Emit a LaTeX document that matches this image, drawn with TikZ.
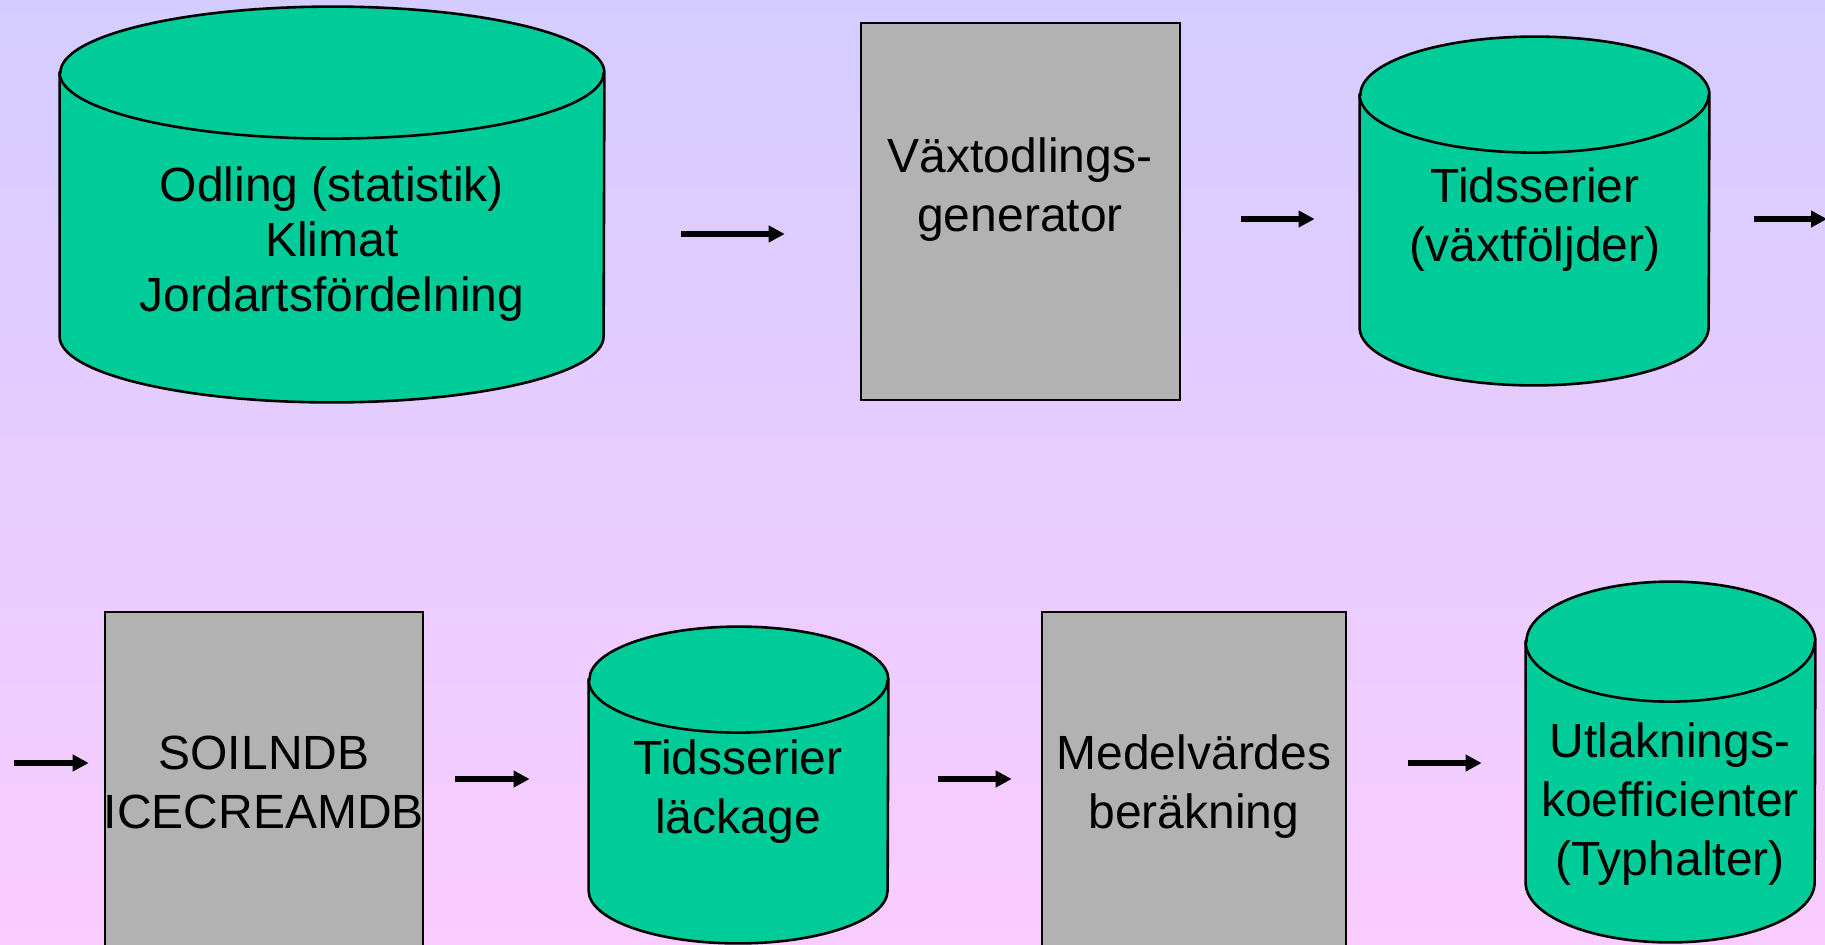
\documentclass[tikz,border=0pt]{standalone}
\usepackage{fontspec}
\setmainfont{Liberation Sans}
\usetikzlibrary{arrows.meta}
\definecolor{dbgreen}{RGB}{0,204,153}
\definecolor{procgray}{RGB}{178,178,178}
\definecolor{bgtop}{RGB}{212,204,255}
\definecolor{bgbottom}{RGB}{250,204,255}
\tikzset{dbframe/.style={
		rectangle,
		inner sep=0pt},
	database/.style={
		draw,
		line width=1.3pt,
		fill=dbgreen},
	process/.style={
		rectangle,
		inner sep=0pt,
		draw,
		line width=1.3pt,
		fill=procgray},
	boxtext/.style={
		align=center,
		inner sep=0pt,
		font=\fontsize{24}{29.5}\selectfont},
	flow/.style={
		line width=3pt,
		-{Triangle[length=8pt,width=8pt]}}
	}
% name, centre, width, height, radius of the ends
\newcommand{\dbnode}[5]{%
	\node [dbframe, minimum width=#3, minimum height=#4] (#1) at (#2) {};
	\draw [database] ([yshift=-#5]#1.north west) -- ([yshift=#5]#1.south west)
		arc [start angle=180, end angle=360, x radius=#3/2, y radius=#5]
		-- ([yshift=-#5]#1.north east)
		arc [start angle=0, end angle=180, x radius=#3/2, y radius=#5] -- cycle;
	\draw [database, fill=none] ([yshift=-#5]#1.north west)
		arc [start angle=180, end angle=360, x radius=#3/2, y radius=#5];
}

\begin{document}
\begin{tikzpicture}[x=0.5pt,y=-0.5pt]
			\useasboundingbox (0,0) rectangle (1825,944);
			\shade[top color=bgtop, bottom color=bgbottom] (0,0) rectangle (1825,944);
			% top row
			\dbnode{odling}{332,204.5}{272pt}{197.5pt}{33pt}
			\node [process, minimum width=159.5pt, minimum height=188.5pt] (vaxtgen) at (1020.5,211.5) {};
			\dbnode{tidvaxt}{1534.5,211}{174.5pt}{174pt}{29pt}
			% bottom row
			\node [process, minimum width=159pt, minimum height=168pt] (soilndb) at (264,780) {};
			\dbnode{tidlack}{738.5,785}{149.5pt}{158pt}{26.5pt}
			\node [process, minimum width=152pt, minimum height=169pt] (medel) at (1194,781) {};
			\dbnode{utlak}{1670.5,762}{144.5pt}{180pt}{30pt}
			% texts
			\node [boxtext, font=\fontsize{24}{27.5}\selectfont] (odling-txt) at (332,244) {Odling (statistik)\\Klimat\\Jordartsfördelning};
			\node [boxtext] (vaxtgen-txt) at (1020,190) {Växtodlings-\\generator};
			\node [boxtext] (tidvaxt-txt) at (1535,220) {Tidsserier\\(växtföljder)};
			\node [boxtext] (soilndb-txt) at (264,782) {SOILNDB\\ICECREAMDB};
			\node [boxtext] (tidlack-txt) at (738,792) {Tidsserier\\läckage};
			\node [boxtext] (medel-txt) at (1194,787) {Medelvärdes\\beräkning};
			\node [boxtext] (utlak-txt) at (1670,804) {Utlaknings-\\koefficienter\\(Typhalter)};
			% arrows
			\coordinate (ut) at (1827,219);
			\coordinate (in) at (14,763);
			\draw [flow, shorten <=38.5pt, shorten >=37.5pt] (odling.east |- 0,234) -- (vaxtgen.west |- 0,234);
			\draw [flow, shorten <=30pt, shorten >=22.5pt] (vaxtgen.east |- 0,219) -- (tidvaxt.west |- 0,219);
			\draw [flow, shorten <=22.5pt] (tidvaxt.east |- ut) -- (ut);
			\draw [flow, shorten >=7.5pt] (in) -- (soilndb.west |- in);
			\draw [flow, shorten <=15.5pt, shorten >=29.5pt] (soilndb.east |- 0,779) -- (tidlack.west |- 0,779);
			\draw [flow, shorten <=25pt, shorten >=14.5pt] (tidlack.east |- 0,779) -- (medel.west |- 0,779);
			\draw [flow, shorten <=30.5pt, shorten >=22pt] (medel.east |- 0,763) -- (utlak.west |- 0,763);
		\end{tikzpicture}
\end{document}
